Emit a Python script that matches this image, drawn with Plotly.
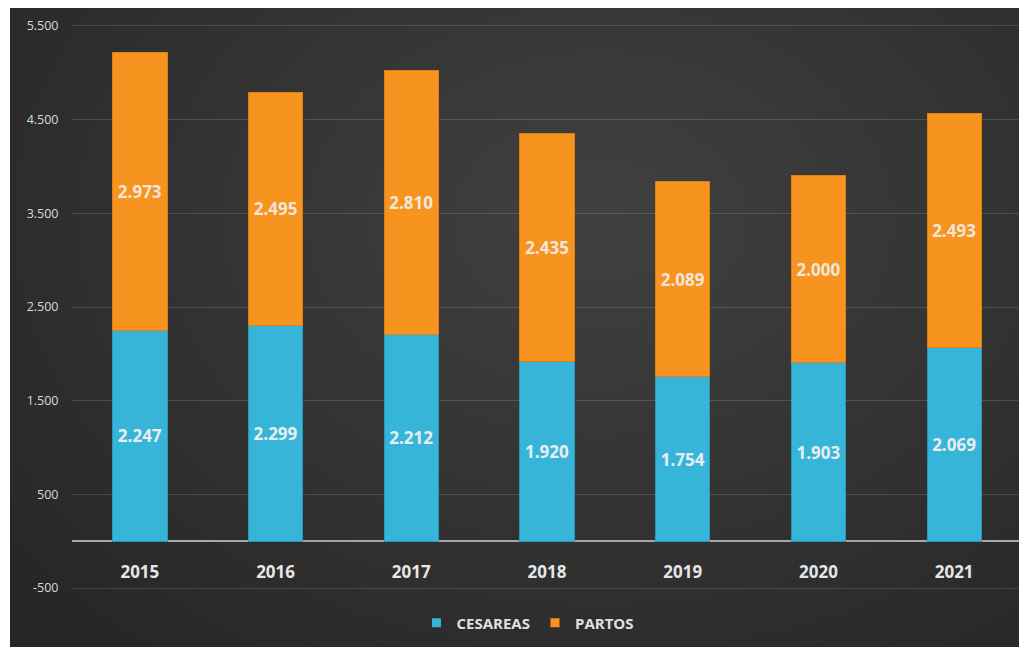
import plotly.graph_objects as go

years = ["2015", "2016", "2017", "2018", "2019", "2020", "2021"]
cesareas = [2247, 2299, 2212, 1920, 1754, 1903, 2069]
partos = [2973, 2495, 2810, 2435, 2089, 2000, 2493]
ytickvals = [-500, 500, 1500, 2500, 3500, 4500, 5500]
yticktext = ["-500", "500", "1.500", "2.500", "3.500", "4.500", "5.500"]

OFF = 8  # page body margin
W, H = 1027 - OFF, 647 - OFF
ML, MT = 64, 0
PLOT_RIGHT, PLOT_BOTTOM = 1022, 635  # reference-pixel edges of the plot area
MR = W - (PLOT_RIGHT - OFF)
MB = H - (PLOT_BOTTOM - OFF)
PW, PH = W - ML - MR, H - MT - MB


def px_x(x):  # x in reference-image pixels
    return (x - OFF - ML) / PW


def px_y(y):
    return (H - MB - (y - OFF)) / PH


fig = go.Figure()
fig.add_trace(go.Bar(
    x=years, y=cesareas, name="CESAREAS", showlegend=False,
    marker=dict(color="#37b5d9", line=dict(color="#2a98b8", width=1)),
    texttemplate="%{y:,d}", textposition="inside", insidetextanchor="middle",
    textfont=dict(family="Open Sans", size=17, color="#e8eef0", weight="bold"),
))
fig.add_trace(go.Bar(
    x=years, y=partos, name="PARTOS", showlegend=False,
    marker=dict(color="#f7941f", line=dict(color="#e07f12", width=1)),
    texttemplate="%{y:,d}", textposition="inside", insidetextanchor="middle",
    textfont=dict(family="Open Sans", size=17, color="#f2e6da", weight="bold"),
))
for name, col in [("CESAREAS", "#37b5d9"), ("PARTOS", "#f7941f")]:
    fig.add_trace(go.Scatter(
        x=[None], y=[None], mode="markers", name=name,
        marker=dict(symbol="square", size=9, color=col),
    ))

shapes = [dict(type="rect", xref="paper", yref="paper",
               x0=px_x(10), x1=px_x(1060), y0=px_y(670), y1=px_y(7),
               fillcolor="#262626", line=dict(width=0), layer="below")]
cx, cy = 600, 220
n = 26
for i in range(n):
    f = 1 - i / n
    rx, ry = 760 * f, 560 * f
    shapes.append(dict(type="circle", xref="paper", yref="paper",
                       x0=px_x(cx - rx), x1=px_x(cx + rx),
                       y0=px_y(cy + ry), y1=px_y(cy - ry),
                       fillcolor="rgba(255,255,255,0.009)", line=dict(width=0),
                       layer="below"))

fig.update_layout(
    width=W, height=H,
    margin=dict(l=ML, r=MR, t=MT, b=MB),
    paper_bgcolor="white", plot_bgcolor="rgba(0,0,0,0)",
    barmode="stack", bargap=0.6,
    separators=",.",
    shapes=shapes,
    showlegend=True,
    legend=dict(orientation="h", x=px_x(528), xanchor="center",
                y=px_y(623), yanchor="middle", traceorder="normal",
                font=dict(family="Open Sans", size=15, color="#e0e0e0", weight="bold"),
                bgcolor="rgba(0,0,0,0)", itemwidth=30),
    font=dict(family="Open Sans"),
    uniformtext=dict(mode="show", minsize=10),
)
fig.update_xaxes(
    type="category", range=[-0.5, 6.5], anchor="free", position=px_y(541),
    showgrid=False, showline=False, zeroline=False,
    ticks="outside", ticklen=16, tickcolor="rgba(0,0,0,0)",
    tickfont=dict(family="Open Sans", size=17, color="#e6e6e6", weight="bold"),
)
fig.update_yaxes(
    range=[-1001, 5692], tickvals=ytickvals, ticktext=yticktext,
    showgrid=True, gridcolor="rgba(255,255,255,0.14)", gridwidth=1,
    zeroline=True, zerolinecolor="#a6a6a6", zerolinewidth=1.5,
    showline=False, ticks="outside", ticklen=10, tickcolor="rgba(0,0,0,0)",
    tickfont=dict(family="Open Sans", size=12.5, color="#d9d9d9"),
)

fig.write_html("out.html")
